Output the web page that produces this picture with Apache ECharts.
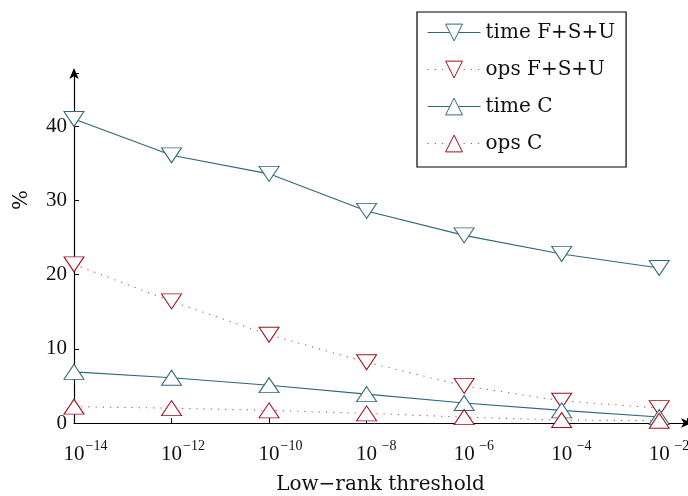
<!DOCTYPE html>
<html><head><meta charset="utf-8">
<script src="https://cdn.jsdelivr.net/npm/echarts@6/dist/echarts.min.js"></script>
<style>html,body{margin:0;padding:0;background:#fff}#c{width:688px;height:496px}</style>
</head><body><div id="c"></div>
<script>
var thresholds = [1e-14, 1e-12, 1e-10, 1e-8, 1e-6, 1e-4, 1e-2];
var timeFSU = [41.0, 36.1, 33.6, 28.6, 25.3, 22.8, 20.9];
var opsFSU = [21.4, 16.4, 11.9, 8.2, 5.0, 3.0, 2.0];
var timeC = [6.9, 6.1, 5.1, 3.9, 2.7, 1.7, 0.8];
var opsC = [2.2, 2.0, 1.7, 1.3, 0.8, 0.4, 0.3];
var seriesNames = ['time F+S+U', 'ops F+S+U', 'time C', 'ops C'];
var yTicks = [0, 10, 20, 30, 40];

var TEAL = '#2f6878', RED = '#a0101a';
var FONT = 'Liberation Serif';
var FONT2 = 'DejaVu Serif';

function pairs(ys) { return thresholds.map(function (x, i) { return [x, ys[i]]; }); }

function mk(name, ys, color, dotted, down) {
  return {
    name: name, type: 'line', data: pairs(ys),
    symbol: 'triangle', symbolSize: [20, 15], symbolRotate: down ? 180 : 0,
    itemStyle: { color: '#fff', borderWidth: 1, borderColor: color },
    lineStyle: dotted ? { color: '#d04a4a', width: 1.1, type: [1.2, 6] } : { color: TEAL, width: 1.1 },
    animation: false
  };
}

var chart = echarts.init(document.getElementById('c'), null, { renderer: 'canvas' });
chart.setOption({
  animation: false,
  backgroundColor: '#fff',
  grid: { left: 74, right: 1, top: 73, bottom: 73, containLabel: false, outerBoundsMode: 'none' },
  xAxis: {
    type: 'log', logBase: 10, min: 1e-14, max: Math.pow(10, -1.43), interval: 2,
    name: 'Low\u2212rank threshold', nameLocation: 'middle', nameGap: 52,
    nameTextStyle: { fontFamily: FONT2, fontSize: 20, color: '#111' },
    axisLine: { lineStyle: { color: '#000', width: 1.2 }, symbol: ['none', 'arrow'], symbolSize: [7, 11], symbolOffset: [0, 5] },
    axisTick: { inside: true, length: 5, lineStyle: { color: '#000' } },
    splitLine: { show: false },
    axisLabel: {
      margin: 20, showMaxLabel: true,
      formatter: function (v) {
        var e = Math.log10(v);
        if (Math.abs(e - Math.round(e)) > 1e-6) return '';
        return '{b|10}{s|\u2212' + Math.abs(Math.round(e)) + '}';
      },
      rich: {
        b: { fontFamily: FONT, fontSize: 21, color: '#111', verticalAlign: 'bottom', lineHeight: 22, padding: [0, 0, 0, 24] },
        s: { fontFamily: FONT, fontSize: 14, color: '#111', verticalAlign: 'bottom', lineHeight: 22, width: 24, align: 'left', padding: [0, 0, 12, 0] }
      }
    }
  },
  yAxis: {
    type: 'value', min: 0, max: 47.2, interval: 10,
    name: '%', nameLocation: 'middle', nameGap: 42, nameRotate: 90,
    nameTextStyle: { fontFamily: FONT2, fontSize: 21, color: '#111', padding: [0, 0, 0, 96] },
    axisLine: { show: true, lineStyle: { color: '#000', width: 1.2 }, symbol: ['none', 'arrow'], symbolSize: [7, 11], symbolOffset: [0, 5] },
    axisTick: { show: true, inside: true, length: 5, lineStyle: { color: '#000' } },
    splitLine: { show: false },
    axisLabel: {
      margin: 7, fontFamily: FONT, fontSize: 21, color: '#111',
      formatter: function (v) { return yTicks.indexOf(v) >= 0 ? String(v) : ''; }
    }
  },
  legend: {
    left: 417, top: 12, orient: 'vertical',
    data: seriesNames,
    itemWidth: 53, itemHeight: 21, itemGap: 16,
    padding: [10, 11, 13, 10],
    borderColor: '#000', borderWidth: 1.2, backgroundColor: '#fff',
    itemStyle: { borderWidth: 1 },
    lineStyle: { width: 1.1 },
    textStyle: { fontFamily: FONT2, fontSize: 20, color: '#111', lineHeight: 21 }
  },
  series: [
    mk(seriesNames[0], timeFSU, TEAL, false, true),
    mk(seriesNames[1], opsFSU, RED, true, true),
    mk(seriesNames[2], timeC, TEAL, false, false),
    mk(seriesNames[3], opsC, RED, true, false)
  ]
});
</script></body></html>
